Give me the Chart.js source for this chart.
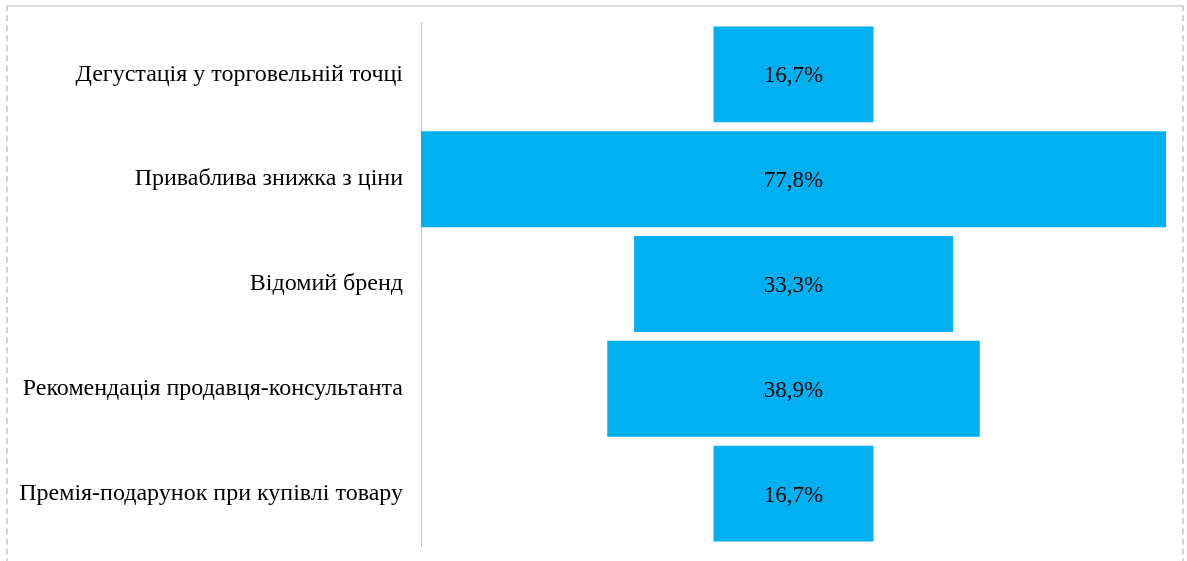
<!DOCTYPE html>
<html>
<head>
<meta charset="utf-8">
<script src="https://cdn.jsdelivr.net/npm/chart.js@4/dist/chart.umd.min.js"></script>
<style>
  html, body { margin: 0; padding: 0; background: #ffffff; }
  body { width: 1187px; height: 561px; position: relative; overflow: hidden; }
  #frame {
    position: absolute; left: 6px; top: 5px; width: 1178px; height: 620px;
    border-top: 2px solid #dcdcdc;
    border-left: 2px dashed #d4d4d4;
    border-right: 2px dashed #d4d4d4;
    box-sizing: border-box;
  }
  #wrap { position: absolute; left: 0; top: 0; width: 1187px; height: 561px; }
</style>
</head>
<body>
<div id="frame"></div>
<div id="wrap"><canvas id="chart"></canvas></div>
<script>
// Factors influencing purchase, share of respondents (%)
const categories = [
  'Дегустація у торговельній точці',
  'Приваблива знижка з ціни',
  'Відомий бренд',
  'Рекомендація продавця-консультанта',
  'Премія-подарунок при купівлі товару'
];
const shares = [16.7, 77.8, 33.3, 38.9, 16.7];
const barColor = '#00B0F0';

// Funnel layout: each bar is centred on zero
const halfSpan = Math.max(...shares) / 2;
const funnelData = shares.map(v => [-v / 2, v / 2]);

const fmt = v => v.toFixed(1).replace('.', ',') + '%';

const valueLabels = {
  id: 'valueLabels',
  afterDatasetsDraw(chart) {
    const ctx = chart.ctx;
    const meta = chart.getDatasetMeta(0);
    ctx.save();
    ctx.font = '23px "Liberation Serif", "Times New Roman", serif';
    ctx.fillStyle = '#000000';
    ctx.textAlign = 'center';
    ctx.textBaseline = 'middle';
    meta.data.forEach((bar, i) => {
      const cx = (bar.x + bar.base) / 2;
      ctx.fillText(fmt(shares[i]), cx, bar.y + 2);
    });
    ctx.restore();
  }
};

new Chart(document.getElementById('chart'), {
  type: 'bar',
  data: {
    labels: categories,
    datasets: [{
      data: funnelData,
      backgroundColor: barColor,
      borderWidth: 0,
      barPercentage: 0.915,
      categoryPercentage: 1.0
    }]
  },
  options: {
    indexAxis: 'y',
    responsive: true,
    maintainAspectRatio: false,
    animation: false,
    layout: { padding: { left: 0, right: 21, top: 22, bottom: 15 } },
    plugins: { legend: { display: false }, tooltip: { enabled: false } },
    scales: {
      x: { display: false, min: -halfSpan, max: halfSpan },
      y: {
        afterFit(scale) {
          scale.width = 421;
          scale.paddingTop = 0;
          scale.paddingBottom = 0;
        },
        grid: { display: false, drawTicks: false },
        border: { display: true, dash: [4, 2], color: '#c4c4c4', width: 1 },
        ticks: {
          padding: 18,
          color: '#000000',
          font: { family: '"Liberation Serif", "Times New Roman", serif', size: 24 }
        }
      }
    }
  },
  plugins: [valueLabels]
});
</script>
</body>
</html>
